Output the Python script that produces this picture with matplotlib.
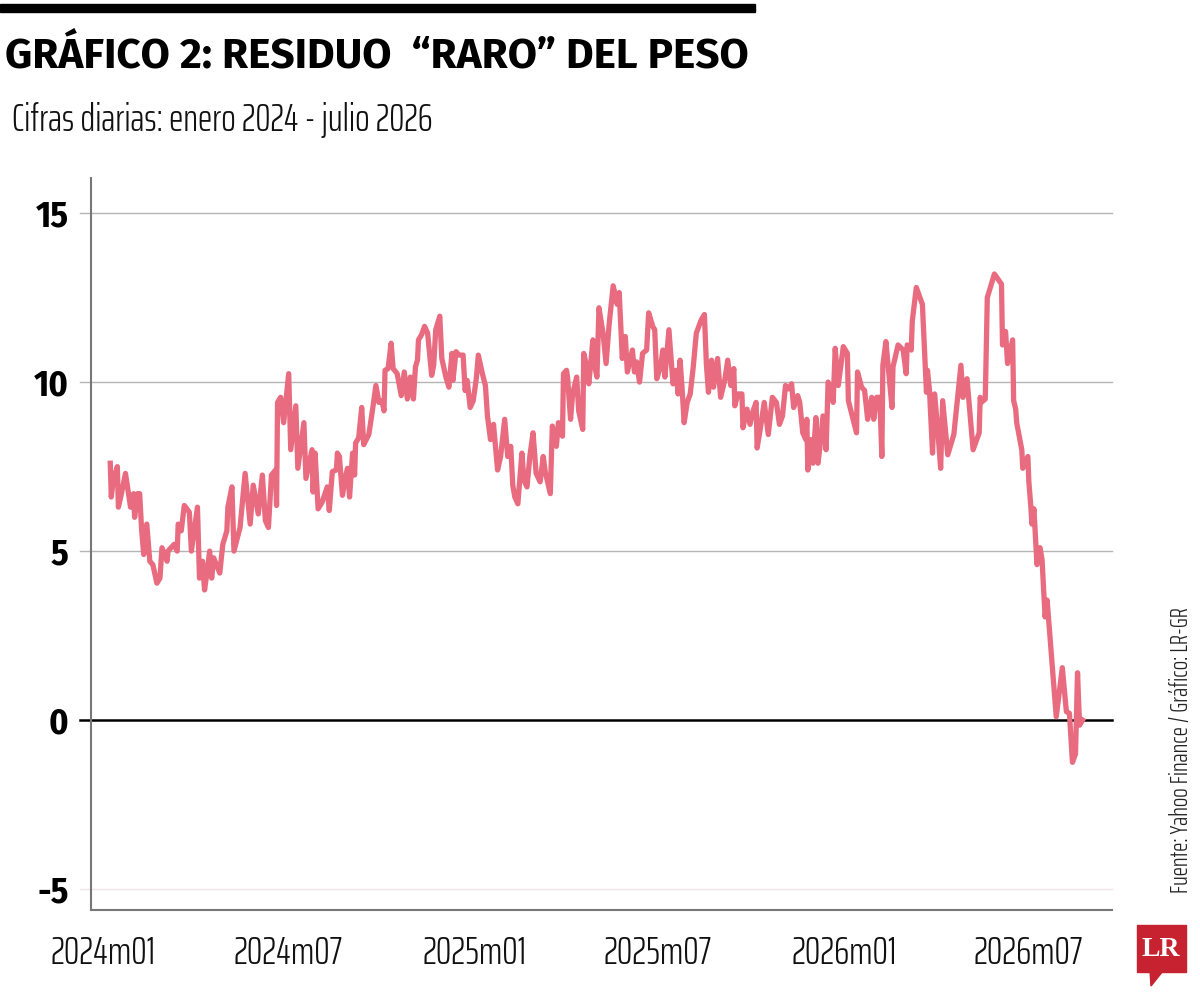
import pandas as pd
import matplotlib
matplotlib.use('Agg')
import matplotlib.pyplot as plt
import matplotlib.font_manager as fm
from matplotlib.patches import Rectangle, Polygon

# days since 2024-01-01 and residual values
days = [7, 8, 10, 14, 15, 18, 22, 27, 30, 31, 34, 36, 38, 40, 43, 46, 49, 53, 56, 58,
        63, 64, 70, 73, 74, 77, 80, 85, 87, 93, 95, 98, 100, 103, 105, 107, 109, 115, 118, 122,
        123, 127, 129, 135, 140, 145, 148, 153, 157, 160, 163, 166, 170, 171, 172, 175, 178, 183, 185, 190,
        192, 198, 200,
        206, 207, 209, 212, 216, 221, 223, 226, 230, 231, 233, 236, 239, 241, 243, 246, 248, 249, 252, 255,
        257, 262, 266, 269, 272, 275, 277, 278, 281, 284, 286, 290, 294, 297, 300, 303, 306, 308, 310, 311,
        314, 317, 320, 324, 326, 328, 332, 334, 338, 341, 344, 345, 348, 351, 355, 357, 359, 362, 365, 368,
        370, 374, 377, 379, 382, 385, 389, 392, 396, 399, 402, 404, 406, 409,
        413, 415, 418, 421, 424, 427, 431, 434, 436, 441, 443, 447, 449, 453, 454, 457, 458, 461, 463, 467,
        469, 473, 474, 477, 479, 483, 485, 487, 489, 493, 496, 499, 503, 507, 509, 512, 515, 517, 522, 524,
        526, 529, 532, 536, 538, 542, 544, 546, 550, 552, 554, 558, 562, 565, 567, 569, 571, 573, 576, 579,
        582, 585, 590, 593, 595, 597, 600, 602,
        606, 609, 613, 616, 619, 622, 623, 626, 630, 631, 635, 638, 641, 644, 645, 648, 652, 656, 660, 664,
        667, 670, 673, 676, 679, 681, 685, 687, 690, 693, 694, 695, 698, 700, 703, 705, 707, 710, 713, 715,
        718, 720, 722, 725, 730, 734, 735, 743, 744, 748, 751, 754, 758, 760, 763, 766, 768, 769, 772, 778,
        779, 784,
        789, 792, 793, 797, 798, 802, 808, 812, 813, 815, 818, 820, 823, 826, 828, 833, 839, 846, 848, 852,
        858, 864, 865, 866, 870, 872, 879, 886, 887, 890, 892, 897, 898, 900, 901, 906, 907, 912, 913, 915,
        916, 918, 921, 924, 926, 929, 931, 940, 946, 950, 953, 956, 959, 961, 963, 966]

residuo = [7.6, 6.6, 7.1, 7.5, 6.3, 6.7, 7.3, 6.3, 6.7, 6.0, 6.7, 6.7, 5.6, 4.9, 5.8, 4.7, 4.6, 4.05, 4.2, 5.1,
           4.7, 5.0, 5.2, 5.0, 5.8, 5.6, 6.35, 6.15, 5.0, 6.3, 4.2, 4.7, 3.85, 4.5, 5.0, 4.2, 4.8, 4.35, 5.2, 5.6,
           6.3, 6.9, 5.0, 5.7, 7.3, 5.8, 6.95, 6.1, 7.25, 5.9, 5.7, 7.25, 7.4, 6.35, 9.4, 9.55, 8.8, 10.25, 8.0, 9.3,
           7.45, 8.8, 7.15,
           8.0, 6.75, 7.9, 6.25, 6.45, 6.9, 6.2, 7.35, 7.4, 7.9, 7.8, 6.65, 7.2, 7.45, 6.6, 7.9, 7.25, 8.2, 8.35, 9.25,
           8.15, 8.45, 9.25, 9.9, 9.4, 9.45, 9.15, 10.35, 10.4, 11.15, 10.4, 10.25, 9.6, 10.3, 9.5, 10.15, 9.5, 10.45, 10.65, 11.25,
           11.4, 11.65, 11.45, 10.2, 10.5, 11.55, 11.95, 10.7, 10.15, 9.85, 10.85, 10.05, 10.9, 10.8, 10.8, 9.75, 10.05, 9.25, 9.45, 10.1,
           10.8, 10.25, 9.9, 9.0, 8.3, 8.75, 7.4, 7.8, 8.9, 7.8, 8.1, 6.95, 6.6, 6.4,
           7.9, 7.1, 6.9, 7.85, 8.5, 7.3, 7.05, 7.8, 7.35, 6.7, 8.7, 8.1, 8.8, 8.4, 10.25, 10.35, 10.15, 8.9, 9.65, 10.15,
           9.15, 8.6, 10.85, 10.45, 9.95, 11.25, 10.45, 10.15, 12.2, 11.45, 10.55, 11.7, 12.85, 12.3, 12.65, 10.7, 11.35, 10.3, 10.95, 10.3,
           10.6, 10.0, 10.85, 10.95, 12.05, 11.65, 11.55, 10.1, 10.5, 10.95, 10.15, 11.55, 9.95, 10.35, 9.65, 10.65, 9.8, 8.8, 9.4, 9.65,
           10.45, 11.45, 11.85, 12.0, 10.5, 9.7, 10.65, 9.85,
           10.7, 9.55, 10.05, 10.65, 9.9, 10.4, 9.3, 9.65, 9.65, 8.65, 9.2, 8.75, 9.15, 9.4, 8.05, 8.6, 9.4, 8.45, 9.55, 9.4,
           8.75, 9.0, 9.9, 9.8, 9.95, 9.25, 9.6, 9.4, 8.5, 8.3, 8.9, 7.4, 8.3, 7.6, 8.95, 7.6, 8.1, 9.0, 8.0, 10.0,
           9.8, 9.4, 11.0, 9.9, 11.05, 10.85, 9.45, 8.5, 10.3, 9.85, 9.75, 8.9, 9.55, 8.9, 9.55, 9.55, 7.8, 10.5, 11.2, 9.25,
           10.45, 11.1,
           10.95, 10.25, 11.1, 10.95, 11.8, 12.8, 12.3, 9.7, 10.35, 9.75, 7.9, 9.65, 8.65, 7.45, 9.45, 7.85, 8.45, 10.5, 9.55, 10.1,
           8.0, 8.5, 9.55, 9.4, 9.5, 12.5, 13.2, 12.9, 11.1, 11.5, 10.55, 11.25, 9.45, 9.2, 8.8, 8.0, 7.45, 7.8, 7.05, 6.3,
           5.8, 6.25, 4.6, 5.1, 4.75, 3.05, 3.55, 0.1, 1.55, 0.25, 0.2, -1.25, -1.0, 1.4, -0.15, 0.0]

tick_dates = ['2024-01-01', '2024-07-01', '2025-01-01', '2025-07-01', '2026-01-01', '2026-07-01']
tick_labels = ['2024m01', '2024m07', '2025m01', '2025m07', '2026m01', '2026m07']
y_ticks = [-5, 0, 5, 10, 15]

# condensed faces if the machine has them, plain Liberation otherwise
installed = {f.name for f in fm.fontManager.ttflist}
if {'Fira Sans', 'Fira Sans Condensed', 'Saira ExtraCondensed'} <= installed:
    title_font = ['Fira Sans', 'DejaVu Sans']
    bold_font = ['Fira Sans Condensed', 'DejaVu Sans']
    light_font = ['Saira ExtraCondensed', 'DejaVu Sans']
    k, kl = 1.0, 1.0
else:
    title_font = bold_font = light_font = ['Liberation Sans', 'DejaVu Sans']
    k, kl = 0.85, 0.7
plt.rcParams['font.family'] = bold_font

W, H = 1200, 996
fig = plt.figure(figsize=(W / 100, H / 100), dpi=100)
ax = fig.add_axes([91 / W, 1 - 910 / H, (1112 - 91) / W, (910 - 178) / H])

start = pd.Timestamp('2024-01-01')
dates = start + pd.to_timedelta(days, unit='D')
ax.plot(dates, residuo, color='#E96B7F', lw=3.8, solid_joinstyle='round', zorder=3)

ax.set_xlim(start - pd.Timedelta(days=12), start + pd.Timedelta(days=995))
ax.set_ylim(-5.62, 16.04)

# grid lines poke out to the left of the axis like in the original
for y in y_ticks:
    if y == 0:
        col, lw = 'black', 1.8
    elif y == -5:
        col, lw = '#f1e4e6', 1.0
    else:
        col, lw = '#b5b5b5', 1.0
    ax.axhline(y, xmin=-0.011, xmax=1, color=col, lw=lw, clip_on=False, zorder=1 if y else 2)

ax.set_yticks(y_ticks)
ax.set_yticklabels([str(v) for v in y_ticks], fontsize=26 * k, fontweight='bold')
ax.set_xticks(pd.to_datetime(tick_dates))
ax.set_xticklabels(tick_labels, fontsize=28 * kl, fontweight=300, family=light_font, color='#111111')
ax.tick_params(axis='y', length=0, pad=16)
ax.tick_params(axis='x', length=0, pad=18)

for s in ['top', 'right']:
    ax.spines[s].set_visible(False)
for s in ['left', 'bottom']:
    ax.spines[s].set_color('#777777')
    ax.spines[s].set_linewidth(1.5)

# header
fig.patches.append(Rectangle((0, 1 - 12 / H), 755 / W, 8 / H, transform=fig.transFigure,
                             color='black', zorder=5))
fig.text(5 / W, 1 - 68 / H, 'GRÁFICO 2: RESIDUO  “RARO” DEL PESO', fontsize=30.5 * k,
         fontweight='bold', family=title_font, va='baseline', ha='left')
fig.text(12 / W, 1 - 131 / H, 'Cifras diarias: enero 2024 - julio 2026', fontsize=27.5 * kl,
         fontweight=300, family=light_font, va='baseline', ha='left', color='#111111')

fig.text(1181 / W, 1 - 750 / H, 'Fuente: Yahoo Finance / Gráfico: LR-GR', fontsize=18 * kl,
         fontweight=300, family=light_font, rotation=90, va='center', ha='center', color='#222222')

# LR logo
fig.patches.append(Rectangle((1137 / W, 1 - 972 / H), 49 / W, 47 / H, transform=fig.transFigure,
                             color='#C62230', zorder=5))
fig.patches.append(Polygon([(1150 / W, 1 - 971 / H), (1163 / W, 1 - 971 / H), (1151 / W, 1 - 986 / H)],
                           closed=True, transform=fig.transFigure, color='#C62230', zorder=5))
fig.text(1161 / W, 1 - 949 / H, 'LR', fontsize=20, fontweight='bold', color='white',
         family=['Liberation Serif', 'DejaVu Serif'], va='center', ha='center', zorder=6)

fig.savefig('out.png', dpi=100)
